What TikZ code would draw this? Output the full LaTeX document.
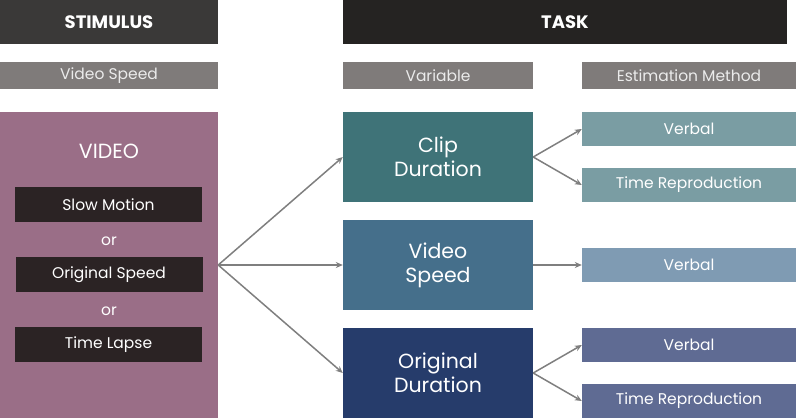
\documentclass[tikz,border=0pt]{standalone}
\usepackage{fontspec}
\setmainfont{Poppins}
\usepackage{tikz}
\usetikzlibrary{arrows.meta}

\definecolor{headdark}{HTML}{3A3938}
\definecolor{taskdark}{HTML}{252322}
\definecolor{subgray}{HTML}{7F7B7A}
\definecolor{videomauve}{HTML}{9A6E87}
\definecolor{speeddark}{HTML}{2B2324}
\definecolor{clipteal}{HTML}{3F7378}
\definecolor{speedblue}{HTML}{456F8B}
\definecolor{orignavy}{HTML}{263C6B}
\definecolor{verbalone}{HTML}{7A9DA3}
\definecolor{verbaltwo}{HTML}{7F9BB3}
\definecolor{verbalthree}{HTML}{5F6B93}
\definecolor{arrowgray}{HTML}{7F7F7F}

\begin{document}
\begin{tikzpicture}[x=1pt,y=-1pt,
    header/.style={inner sep=0pt,text=white,font=\fontsize{18}{18}\selectfont\bfseries},
    subhead/.style={fill=subgray,inner sep=0pt,minimum height=27pt,text=white!92!black,font=\fontsize{15.5}{15.5}\selectfont},
    speedbox/.style={fill=speeddark,inner sep=0pt,minimum width=187pt,minimum height=35pt,text=white,font=\fontsize{15.5}{15.5}\selectfont},
    varbox/.style={inner sep=0pt,minimum width=190pt,minimum height=90pt,text=white,align=center,font=\fontsize{20.5}{24}\selectfont},
    methbox/.style={inner sep=0pt,minimum width=214pt,minimum height=34pt,text=white,font=\fontsize{15.5}{15.5}\selectfont},
    link/.style={->,>={Stealth[length=7pt,width=6pt]},draw=arrowgray,line width=1.5pt}]
    \useasboundingbox (0,0) rectangle (797,418);

    % headers
    \node[header,fill=headdark,minimum width=218pt,minimum height=44pt] (stimulus) at (109,22) {STIMULUS};
    \node[header,fill=taskdark,minimum width=444pt,minimum height=44pt] (task) at (565,22) {TASK};

    \node[subhead,minimum width=218pt] (vidspeed) at (109,75.5) {Video Speed};
    \node[subhead,minimum width=190pt] (variable) at (438,75.5) {Variable};
    \node[subhead,minimum width=214pt] (estmethod) at (689,75.5) {Estimation Method};

    % stimulus side
    \node[fill=videomauve,inner sep=0pt,minimum width=218pt,minimum height=306pt] (video) at (109,265) {};
    \node[text=white,font=\fontsize{20.5}{20.5}\selectfont] (videotitle) at (109,151) {VIDEO};
    \node[speedbox] (slow) at (108.5,204.5) {Slow Motion};
    \node[text=white,font=\fontsize{15.5}{15.5}\selectfont] (or1) at (109,241) {or};
    \node[speedbox] (orig) at (109,274.5) {Original Speed};
    \node[text=white,font=\fontsize{15.5}{15.5}\selectfont] (or2) at (109,311) {or};
    \node[speedbox] (lapse) at (108.5,344.5) {Time Lapse};

    % task side
    \node[varbox,fill=clipteal] (clip) at (438,157) {Clip\\Duration};
    \node[varbox,fill=speedblue] (speed) at (438,265) {Video\\Speed};
    \node[varbox,fill=orignavy] (origdur) at (438,373) {Original\\Duration};

    \node[methbox,fill=verbalone] (verbal1) at (689,129) {Verbal};
    \node[methbox,fill=verbalone] (repro1) at (689,185) {Time Reproduction};
    \node[methbox,fill=verbaltwo] (verbal2) at (689,265) {Verbal};
    \node[methbox,fill=verbalthree] (verbal3) at (689,345) {Verbal};
    \node[methbox,fill=verbalthree] (repro3) at (689,401) {Time Reproduction};

    % connectors
    \draw[link] (video.east) -- (clip.west);
    \draw[link] (video.east) -- (speed.west);
    \draw[link] (video.east) -- (origdur.west);
    \draw[link] (clip.east) -- (verbal1.west);
    \draw[link] (clip.east) -- (repro1.west);
    \draw[link] (speed.east) -- (verbal2.west);
    \draw[link] (origdur.east) -- (verbal3.west);
    \draw[link] (origdur.east) -- (repro3.west);
\end{tikzpicture}
\end{document}
